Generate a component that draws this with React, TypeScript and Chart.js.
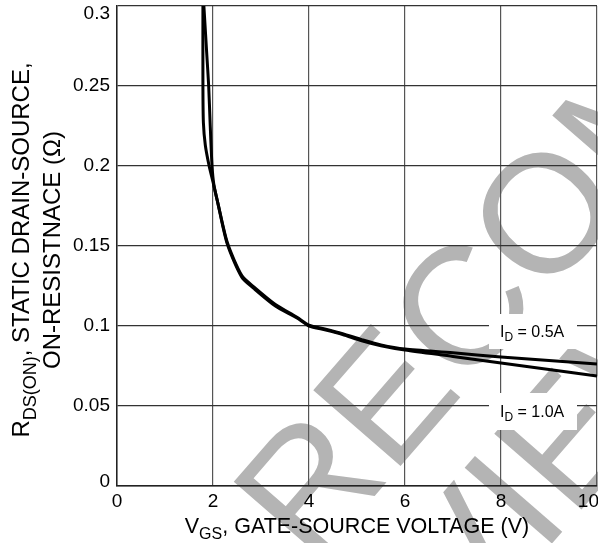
import React, { useEffect, useRef } from "react";
import { Chart, registerables } from "chart.js";

Chart.register(...registerables);

// ---- data ----
const vgsHalfAmp = [1.81, 1.87, 1.91, 1.94, 1.98, 2.02, 2.1, 2.3, 2.6, 2.85, 3.3, 3.75, 4.0, 4.35, 4.7, 5.1, 5.5, 6.0, 7.0, 8.0, 9.0, 10.0];
const rdsHalfAmp = [0.3, 0.27, 0.25, 0.227, 0.2, 0.188, 0.177, 0.152, 0.1315, 0.1245, 0.1135, 0.1055, 0.1005, 0.098, 0.0952, 0.0915, 0.0882, 0.0856, 0.0833, 0.0806, 0.0785, 0.0763];

const vgsOneAmp = [1.79, 1.79, 1.8, 1.84, 1.92, 2.0, 2.1, 2.3, 2.6, 2.85, 3.3, 3.75, 4.0, 4.35, 4.7, 5.1, 5.5, 6.0, 7.0, 8.0, 9.0, 10.0];
const rdsOneAmp = [0.3, 0.25, 0.227, 0.213, 0.2, 0.19, 0.177, 0.151, 0.1305, 0.1235, 0.1125, 0.105, 0.1, 0.0975, 0.0947, 0.0908, 0.0877, 0.085, 0.081, 0.0769, 0.0728, 0.0688];

const xTickValues = [0, 2, 4, 6, 8, 10];
const xTickLabels = ["0", "2", "4", "6", "8", "10"];
const yTickValues = [0, 0.05, 0.1, 0.15, 0.2, 0.25, 0.3];
const yTickLabels = ["0", "0.05", "0.1", "0.15", "0.2", "0.25", "0.3"];

const seriesNames = ["0.5A", "1.0A"];
const watermarkLines = ["RECOMMENDED", "REVIEW"];

const FONT = "'Liberation Sans', Arial, Helvetica, sans-serif";

type Part = { t: string; sub?: boolean };

function richWidth(ctx: CanvasRenderingContext2D, parts: Part[], size: number) {
  let w = 0;
  for (const p of parts) {
    ctx.font = `${p.sub ? Math.round(size * 0.75) : size}px ${FONT}`;
    w += ctx.measureText(p.t).width;
  }
  return w;
}

function drawRich(ctx: CanvasRenderingContext2D, parts: Part[], x: number, y: number, size: number, align: "left" | "center") {
  const w = richWidth(ctx, parts, size);
  let cx = align === "center" ? x - w / 2 : x;
  ctx.textAlign = "left";
  ctx.textBaseline = "alphabetic";
  for (const p of parts) {
    ctx.font = `${p.sub ? Math.round(size * 0.75) : size}px ${FONT}`;
    ctx.fillText(p.t, cx, p.sub ? y + size * 0.28 : y);
    cx += ctx.measureText(p.t).width;
  }
}

const decorPlugin = {
  id: "decor",
  beforeDraw(chart: any) {
    const ctx: CanvasRenderingContext2D = chart.ctx;
    ctx.save();
    ctx.fillStyle = "#b4b4b4";
    ctx.font = `168px ${FONT}`;
    ctx.textAlign = "left";
    ctx.textBaseline = "alphabetic";
    const ang = (-49 * Math.PI) / 180;
    ctx.translate(312, 568);
    ctx.rotate(ang);
    ctx.fillText(watermarkLines[0], 0, 0);
    ctx.fillText(watermarkLines[1], -185, 165);
    ctx.restore();
  },
  afterDraw(chart: any) {
    const ctx: CanvasRenderingContext2D = chart.ctx;
    const xs = chart.scales.x;
    const ys = chart.scales.y;
    const area = chart.chartArea;
    ctx.save();
    ctx.fillStyle = "#000";
    // y tick labels
    ctx.font = `19px ${FONT}`;
    ctx.textAlign = "right";
    ctx.textBaseline = "middle";
    yTickValues.forEach((v, i) => {
      let py = ys.getPixelForValue(v);
      py = Math.max(14, Math.min(482, py));
      ctx.fillText(yTickLabels[i], 110, py);
    });
    // x tick labels
    ctx.textAlign = "center";
    ctx.textBaseline = "top";
    xTickValues.forEach((v, i) => {
      const w = ctx.measureText(xTickLabels[i]).width;
      let px = xs.getPixelForValue(v);
      px = Math.min(px, 599 - w / 2);
      ctx.fillText(xTickLabels[i], px, 492);
    });

    // series labels with white boxes
    const boxes = [
      { x: 489, y: 314, w: 88, h: 35, name: seriesNames[0], by: 337 },
      { x: 489, y: 393, w: 88, h: 37, name: seriesNames[1], by: 417 },
    ];
    for (const b of boxes) {
      ctx.fillStyle = "#fff";
      ctx.fillRect(b.x, b.y, b.w, b.h);
      ctx.fillStyle = "#000";
      drawRich(ctx, [{ t: "I" }, { t: "D", sub: true }, { t: " = " + b.name }], 500, b.by, 16, "left");
    }

    // x title
    const cx = (area.left + area.right) / 2;
    drawRich(
      ctx,
      [{ t: "V" }, { t: "GS", sub: true }, { t: ", GATE-SOURCE VOLTAGE (V)" }],
      cx,
      533,
      21.5,
      "center"
    );

    // y title (rotated)
    ctx.save();
    ctx.rotate(-Math.PI / 2);
    drawRich(
      ctx,
      [{ t: "R" }, { t: "DS(ON)", sub: true }, { t: ", STATIC DRAIN-SOURCE," }],
      -250,
      29,
      24,
      "center"
    );
    drawRich(ctx, [{ t: "ON-RESISTNACE (\u03A9)" }], -250, 60, 24, "center");
    ctx.restore();
    ctx.restore();
  },
};

export default function App() {
  const ref = useRef<HTMLCanvasElement | null>(null);

  useEffect(() => {
    if (!ref.current) return;
    const chart = new Chart(ref.current, {
      type: "line",
      data: {
        datasets: [
          {
            label: "I_D = " + seriesNames[0],
            data: vgsHalfAmp.map((x, i) => ({ x, y: rdsHalfAmp[i] })),
            borderColor: "#000",
            borderWidth: 3,
            pointRadius: 0,
            tension: 0.25,
            fill: false,
          },
          {
            label: "I_D = " + seriesNames[1],
            data: vgsOneAmp.map((x, i) => ({ x, y: rdsOneAmp[i] })),
            borderColor: "#000",
            borderWidth: 3,
            pointRadius: 0,
            tension: 0.25,
            fill: false,
          },
        ],
      },
      options: {
        animation: false,
        responsive: false,
        devicePixelRatio: 1,
        layout: { padding: { top: 6, right: 1, left: 0, bottom: 0 } },
        plugins: {
          legend: { display: false },
          tooltip: { enabled: false },
          title: { display: false },
        },
        scales: {
          x: {
            type: "linear",
            min: 0,
            max: 10,
            afterBuildTicks: (s: any) => {
              s.ticks = xTickValues.map((v) => ({ value: v }));
            },
            afterFit: (s: any) => {
              s.height = 57;
              s.paddingLeft = 0;
              s.paddingRight = 0;
            },
            ticks: { display: false },
            grid: { color: "#555", lineWidth: 1.2, drawTicks: false },
            border: { display: true, color: "#222", width: 1.5 },
          },
          y: {
            type: "linear",
            min: 0,
            max: 0.3,
            afterBuildTicks: (s: any) => {
              s.ticks = yTickValues.map((v) => ({ value: v }));
            },
            afterFit: (s: any) => {
              s.width = 117;
              s.paddingTop = 0;
              s.paddingBottom = 0;
            },
            ticks: { display: false },
            grid: { color: "#333", lineWidth: 1.2, drawTicks: false },
            border: { display: true, color: "#222", width: 1.5 },
          },
        },
      },
      plugins: [decorPlugin],
    });
    return () => chart.destroy();
  }, []);

  return (
    <canvas
      ref={ref}
      width={598}
      height={543}
      style={{ position: "absolute", left: 0, top: 0, width: 598, height: 543 }}
    />
  );
}
